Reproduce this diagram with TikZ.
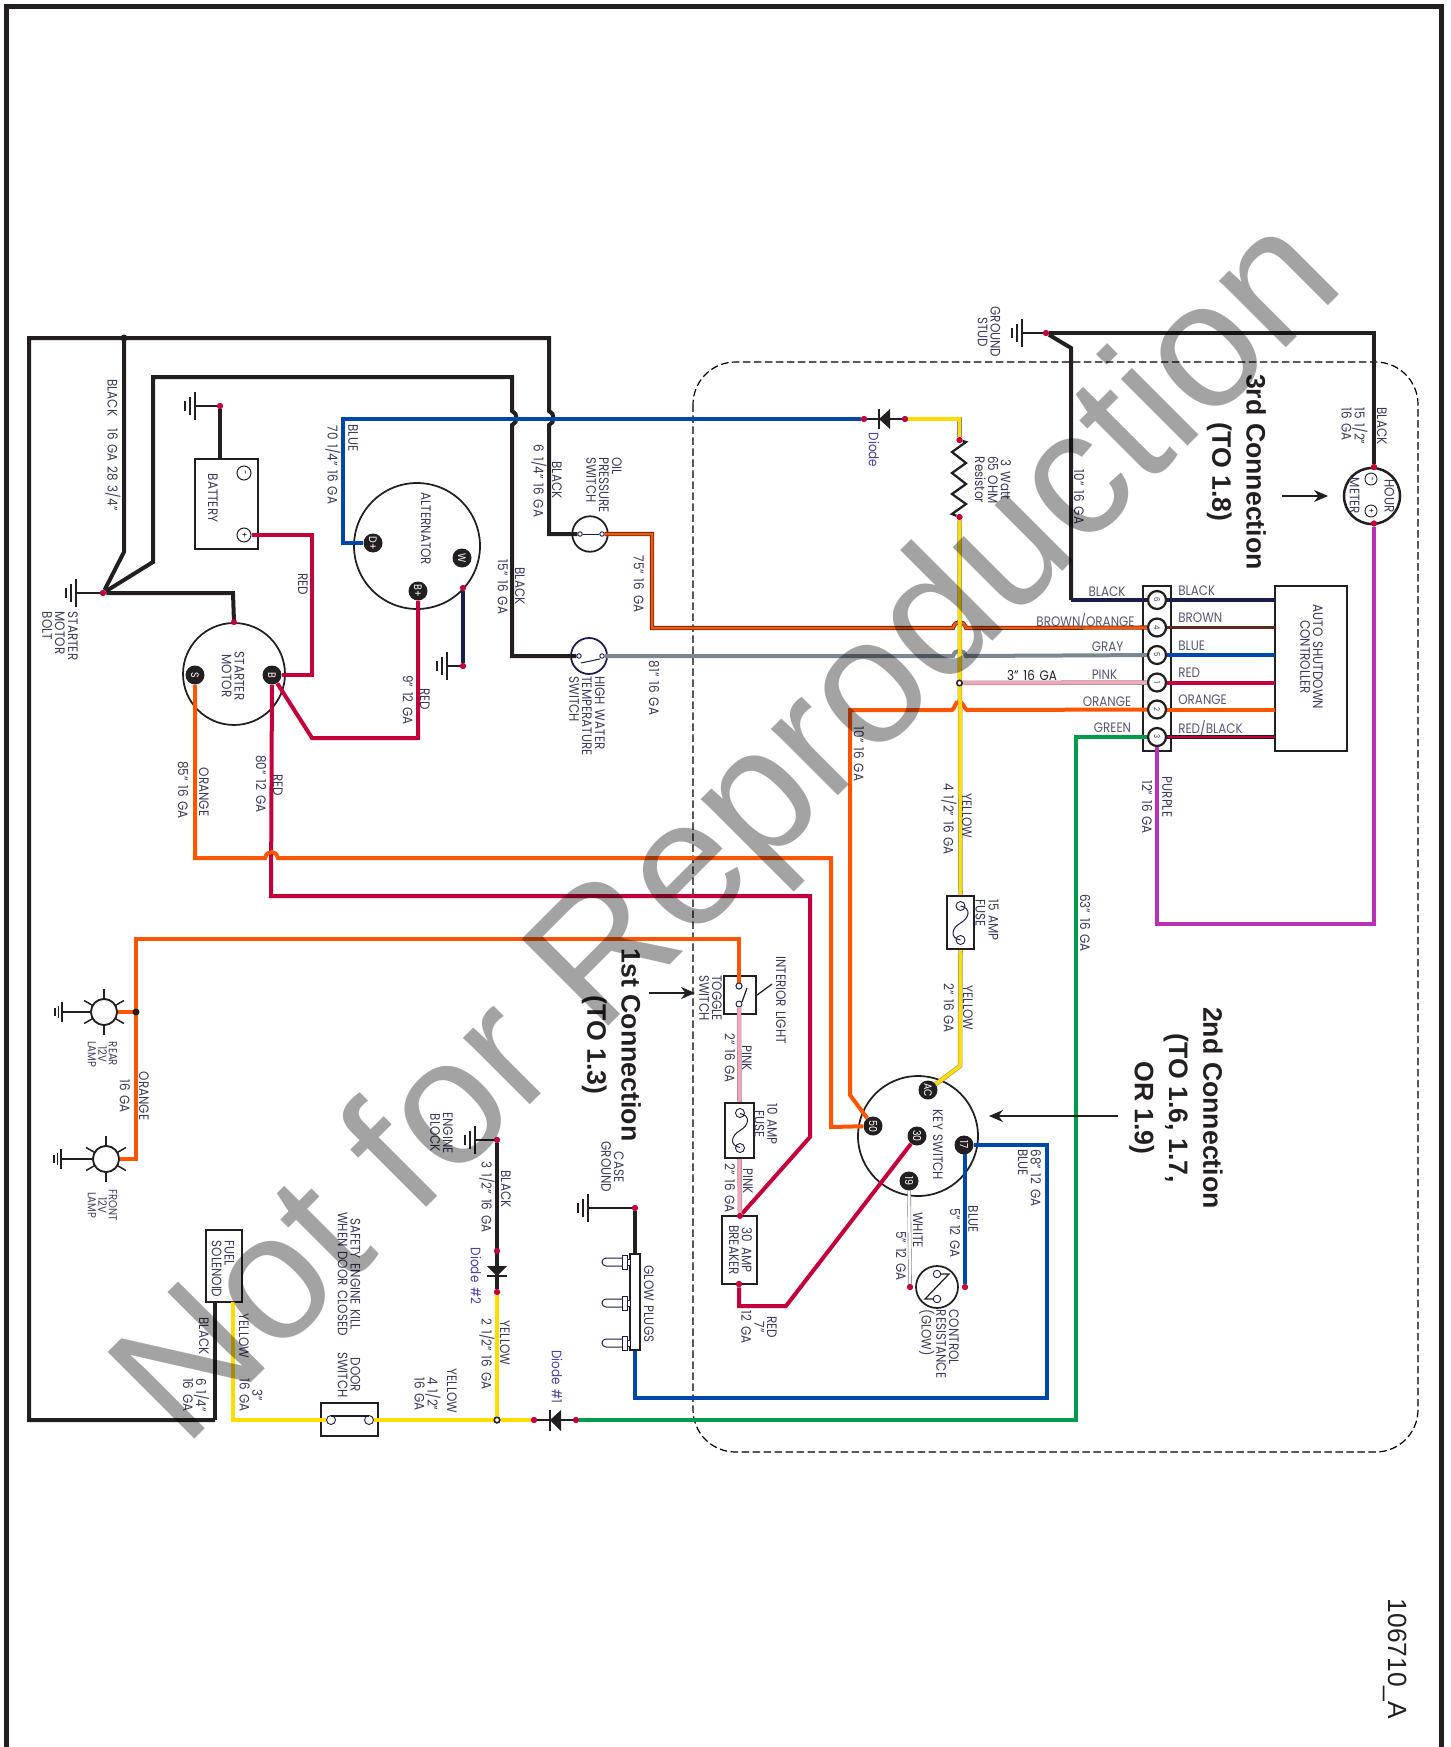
\documentclass[tikz,border=0pt]{standalone}
\usepackage{fontspec}
\setmainfont{Poppins}[FakeStretch=0.87,WordSpace=1.5]
\newfontfamily\headfont{Liberation Sans}
\usetikzlibrary{arrows.meta}
\definecolor{wblack}{HTML}{231F20}
\definecolor{wnavy}{HTML}{1C1C4C}
\definecolor{wred}{HTML}{C4003A}
\definecolor{worange}{HTML}{FF5500}
\definecolor{wblue}{HTML}{0047AB}
\definecolor{wgreen}{HTML}{009B4C}
\definecolor{wpurple}{HTML}{B832B8}
\definecolor{wyellow}{HTML}{FFDD00}
\definecolor{wgray}{HTML}{7A8891}
\definecolor{wbrown}{HTML}{5A2D1A}
\definecolor{wpink}{HTML}{F4A6B8}
\definecolor{lbltext}{HTML}{3A3A5C}
\definecolor{diodetext}{HTML}{4B3FA0}
\tikzset{
  wireblk/.style={draw=wblack,line width=0.08cm,line join=miter},
  wirenvy/.style={draw=wnavy,line width=0.07cm},
  wirered/.style={draw=wred,line width=0.08cm},
  wireorg/.style={draw=worange,line width=0.08cm},
  wireblu/.style={draw=wblue,line width=0.08cm},
  wiregrn/.style={draw=wgreen,line width=0.08cm},
  wirepur/.style={draw=wpurple,line width=0.08cm},
  wiregry/.style={draw=wgray,line width=0.08cm},
  wirebrn/.style={draw=wbrown,line width=0.07cm},
  wireyel/.style={draw=black!45,double=wyellow,line width=0.01cm,double distance=0.07cm},
  wirepnk/.style={draw=black!45,double=wpink,line width=0.01cm,double distance=0.07cm},
  wirewht/.style={draw=black!50,double=white,line width=0.012cm,double distance=0.05cm},
  wirebo/.style={draw=wbrown,double=worange,line width=0.016cm,double distance=0.05cm},
  wirerb/.style={draw=wblack,double=wred,line width=0.016cm,double distance=0.04cm},
  thin line/.style={draw=wblack,line width=0.025cm},
  navy line/.style={draw=wnavy,line width=0.02cm},
  lbl/.style={rotate=-90,text=lbltext,inner sep=0,align=center,font=\fontsize{7.8}{7.3}\selectfont},
  lblleft/.style={lbl,align=left},
  lblsmall/.style={lbl,font=\fontsize{6.6}{6}\selectfont},
  lblflat/.style={text=lbltext!85!white,inner sep=0,font=\fontsize{7.8}{8}\selectfont},
  lbldiode/.style={lbl,text=diodetext},
  headlbl/.style={rotate=-90,text=wblack,inner sep=0,align=center,font=\headfont\bfseries\fontsize{15.2}{19.5}\selectfont},
  dotred/.style={circle,fill=wred,inner sep=0,minimum size=0.12cm},
  dotblk/.style={circle,fill=wblack,inner sep=0,minimum size=0.14cm},
  dotwht/.style={circle,fill=white,draw=wblack,line width=0.03cm,inner sep=0,minimum size=0.11cm},
  smallcirc/.style={circle,fill=white,draw=wnavy,line width=0.018cm,inner sep=0,minimum size=0.18cm},
  term/.style={circle,fill=wblack,text=white,rotate=-90,inner sep=0,minimum size=0.38cm,font=\fontsize{6.2}{6}\selectfont},
  block/.style={circle,fill=white,draw=wblack,line width=0.045cm,text=lbltext,rotate=-90,inner sep=0,minimum size=0.36cm,font=\fontsize{4.5}{5}\selectfont},
  comp/.style={circle,draw=wblack,line width=0.035cm,inner sep=0},
  boxcomp/.style={rectangle,draw=wblack,line width=0.045cm,fill=white,inner sep=0},
  gndsym/.pic={
    \draw [wblack,line width=0.035cm] (0,-14) -- (0,14);
    \draw [wblack,line width=0.03cm] (-5,-9) -- (-5,9);
    \draw [wblack,line width=0.03cm] (-10,-5) -- (-10,5);
  },
  lamprays/.pic={
    \foreach \ang in {30,90,150,210,270,330} {\draw [wblack,line width=0.03cm] (\ang:13) -- (\ang:23);}
  },
  fusewave/.pic={
    \draw [wnavy,line width=0.02cm] (0,-17) .. controls (11,-15) and (9,-5) .. (0,0) .. controls (-9,5) and (-11,15) .. (0,17);
  },
  plugsym/.pic={
    \draw [wnavy,line width=0.02cm,fill=white] (0,-3) rectangle (-3,3);
    \draw [wnavy,line width=0.02cm,fill=white] (-3,-7) rectangle (-8,7);
    \draw [wnavy,line width=0.02cm] (-8,-4) -- (-24,-4) arc (270:90:4) -- (-8,4);
  }
}
\begin{document}
\begin{tikzpicture}[x=0.02cm,y=-0.02cm]
  \useasboundingbox (0,0) rectangle (1450,1747);

  % Frame
  \coordinate (framebl) at (6.5,1747);
  \coordinate (frametl) at (6.5,6.5);
  \coordinate (frametr) at (1441.5,6.5);
  \coordinate (framebr) at (1441.5,1747);
  \draw [wblack,line width=0.1cm] (framebl) -- (frametl) -- (frametr) -- (framebr);%

  % Dashed enclosure
  \draw [black,line width=0.024cm,dash pattern=on 0.15cm off 0.07cm,rounded corners=0.85cm] (693,362) rectangle (1418,1452);%

  % Grounds and junction points
  \node (gndstarter) [dotred] at (103,593) {};
  \node (gndbatt) [dotred] at (220,406) {};
  \node (gndalt) [dotred] at (463,666) {};
  \node (gndstud) [dotred] at (1046,333) {};
  \node (gndengine) [dotred] at (497,1140) {};
  \node (gndcase) [dotred] at (635,1208) {};
  \coordinate (barstarter) at (76,593);
  \coordinate (barbatt) at (195,406);
  \coordinate (baralt) at (447,666);
  \coordinate (barstud) at (1022,333);
  \coordinate (barengine) at (475,1140);
  \coordinate (barcase) at (588,1208);
  \coordinate (barrear) at (62,1012);
  \coordinate (barfront) at (61,1159);

  % Components with round bodies
  \node (starter) [comp,minimum size=2.04cm] at (234,674) {};
  \node (alternator) [comp,minimum size=2.52cm] at (417,546) {};
  \node (oilsw) [comp,minimum size=0.71cm] at (590,534) {};
  \node (watersw) [comp,draw=wnavy,minimum size=0.72cm] at (589,656) {};
  \node (keysw) [comp,minimum size=2.4cm] at (918,1136) {};
  \node (hourmeter) [comp,line width=0.05cm,minimum size=1.12cm] at (1372,496) {};
  \node (ctrlres) [comp,minimum size=0.84cm] at (937,1287) {};
  \node (rearlamp) [comp,fill=white,minimum size=0.52cm] at (104,1012) {};
  \node (frontlamp) [comp,fill=white,minimum size=0.52cm] at (106,1159) {};

  % Terminals
  \node (termS) [term] at (195,675) {S};
  \node (termB) [term] at (272,675) {B};
  \node (termD) [term] at (373,543) {D+};
  \node (termW) [term] at (462,558) {W};
  \node (termBp) [term] at (418,591) {B+};
  \node (termAC) [term] at (928,1090) {AC};
  \node (term50) [term] at (873,1126) {50};
  \node (term30) [term] at (917,1136) {30};
  \node (term17) [term] at (964,1145) {17};
  \node (term19) [term] at (909,1181) {19};

  % Wire bends
  \coordinate (blktopr) at (549,338);
  \coordinate (blktopl) at (29,338);
  \coordinate (blkbotl) at (29,1420);
  \coordinate (blkbotr) at (215,1420);
  \coordinate (blktap) at (124,338);
  \coordinate (blktapb) at (124,552);
  \coordinate (blk2l) at (153,377);
  \coordinate (blk2r) at (512,377);
  \coordinate (blk2b) at (153,562);
  \coordinate (blk2d) at (512,656);
  \coordinate (blk1d) at (549,534);
  \coordinate (hopa1) at (512,411);
  \coordinate (hopa2) at (512,425);
  \coordinate (hopb1) at (549,411);
  \coordinate (hopb2) at (549,425);
  \coordinate (strtop) at (233,593);
  \coordinate (hopbrn1) at (953,628);
  \coordinate (hopbrn2) at (966,628);
  \coordinate (hopgry1) at (953,656);
  \coordinate (hopgry2) at (966,656);
  \coordinate (hoporg1) at (952,710);
  \coordinate (hoporg2) at (967,710);
  \coordinate (hopred1) at (265,858);
  \coordinate (hopred2) at (278,858);

  % Small parts on the switches
  \node (oilc1) [smallcirc,minimum size=0.09cm] at (580,534) {};
  \node (oilc2) [smallcirc,minimum size=0.09cm] at (602,534) {};
  \node (watc1) [smallcirc,minimum size=0.09cm] at (579,656) {};
  \node (watc2) [smallcirc,minimum size=0.09cm] at (602,656) {};
  \coordinate (watarm1) at (581,663);
  \coordinate (watarm2) at (600,659);

  % Battery
  \node (battery) [boxcomp,minimum width=1.26cm,minimum height=1.8cm] at (226.5,504) {};
  \node (battminus) [circle,draw=wblack,line width=0.02cm,inner sep=0,minimum size=0.28cm,rotate=-90,font=\fontsize{5}{5}\selectfont] at (244,473) {-};
  \node (battplus) [circle,draw=wblack,line width=0.02cm,inner sep=0,minimum size=0.28cm,rotate=-90,font=\fontsize{5}{5}\selectfont] at (244,535) {+};
  \coordinate (battred1) at (312,535);
  \coordinate (battred2) at (312,675);
  \coordinate (altred1) at (312,738);
  \coordinate (altred2) at (418,738);
  \coordinate (batttop) at (220,459);

  % Drawing the long black wires
  \draw [wireblk] (blkbotr) -- (blkbotl) -- (blktopl) -- (blktopr) -- (hopb1) .. controls +(6,2) and +(6,-2) .. (hopb2) -- (blk1d) -- (oilc1);%
  \draw [wireblk] (gndstarter) -- (blktapb) -- (blktap);%
  \node (blktapdot) [dotblk] at (blktap) {};
  \draw [wireblk] (gndstarter) -- (blk2b) -- (blk2l) -- (blk2r) -- (hopa1) .. controls +(6,2) and +(6,-2) .. (hopa2) -- (blk2d) -- (watc1);%
  \draw [wireblk] (gndstarter) -- (strtop) -- (starter.north);%
  \draw [wireblk,line width=0.035cm] (gndstarter) -- (barstarter);%
  \draw [wireblk] (gndbatt) -- (batttop);%
  \draw [wireblk,line width=0.035cm] (gndbatt) -- (barbatt);%
  \pic at (barstarter) {gndsym};
  \pic at (barbatt) {gndsym};
  \node (strdot) [dotred] at (starter.north) {};
  \node (gndstarter2) [dotred] at (103,593) {};
  \node (gndbatt2) [dotred] at (220,406) {};

  % Drawing the alternator wires
  \coordinate (blu1) at (343,543);
  \coordinate (blu2) at (343,419);
  \node (dio1l) [dotred] at (864,419) {};
  \node (dio1r) [dotred] at (905,419) {};
  \draw [wireblu] (termD) -- (blu1) -- (blu2) -- (dio1l);%
  \draw [wirered] (battplus) -- (battred1) -- (battred2) -- (termB);%
  \draw [wirered] (termB) -- (altred1) -- (altred2) -- (termBp);%
  \node (altdot) [dotred] at (463,588) {};
  \draw [wirenvy] (altdot) -- (gndalt);%
  \draw [wireblk,line width=0.035cm] (gndalt) -- (baralt);%
  \pic at (baralt) {gndsym};
  \node (altdot2) [dotred] at (463,588) {};
  \node (gndalt2) [dotred] at (463,666) {};

  % Drawing the orange and red wires from the starter
  \coordinate (org1a) at (195,858);
  \coordinate (org1b) at (831,858);
  \coordinate (org1c) at (831,1127);
  \coordinate (red1a) at (271,896);
  \coordinate (red1b) at (810,896);
  \coordinate (red1c) at (810,1137);
  \node (brkdot) [dotred] at (740,1216) {};
  \draw [wirered] (termB) -- (red1a) -- (red1b) -- (red1c) -- (brkdot);%
  \draw [wireorg] (termS) -- (org1a) -- (hopred1) .. controls +(2,-8) and +(-2,-8) .. (hopred2) -- (org1b) -- (org1c) -- (term50);%

  % Terminal block and controller
  \node (tblock) [boxcomp,minimum width=0.56cm,minimum height=3.3cm] at (1157,668.5) {};
  \node (controller) [boxcomp,minimum width=1.44cm,minimum height=3.3cm] at (1311,668.5) {};
  \node (t6) [block] at (1157,600) {6};
  \node (t4) [block] at (1157,627.5) {4};
  \node (t5) [block] at (1157,655) {5};
  \node (t1) [block] at (1157,682.5) {1};
  \node (t2) [block] at (1157,709.5) {2};
  \node (t3) [block] at (1157,737) {3};
  \coordinate (c6) at (1275,600);
  \coordinate (c4) at (1275,627.5);
  \coordinate (c5) at (1275,655);
  \coordinate (c1) at (1275,682.5);
  \coordinate (c2) at (1275,709.5);
  \coordinate (c3) at (1275,737);
  \draw [wirenvy] (t6) -- (c6);%
  \draw [wirebrn] (t4) -- (c4);%
  \draw [wireblu] (t5) -- (c5);%
  \draw [wirered] (t1) -- (c1);%
  \draw [wireorg] (t2) -- (c2);%
  \draw [wirerb] (t3) -- (c3);%

  % Drawing the wires through the yellow feed
  \coordinate (brn1) at (652,534);
  \coordinate (brn2) at (652,628);
  \coordinate (brn3) at (1140,627.5);
  \coordinate (gry3) at (1140,655);
  \coordinate (org3) at (1140,709.5);
  \coordinate (org2a) at (850,710);
  \coordinate (org2b) at (850,1095);
  \draw [wirebo] (oilc2) -- (brn1) -- (brn2) -- (hopbrn1) .. controls +(2,-8) and +(-2,-8) .. (hopbrn2) -- (t4);%
  \draw [wiregry] (watc2) -- (hopgry1) .. controls +(2,-7) and +(-2,-7) .. (hopgry2) -- (t5);%
  \draw [wireorg] (term50) -- (org2b) -- (org2a) -- (hoporg1) .. controls +(3,-1) and +(-4,-1) .. +(7,-8) .. controls +(4,-1) and +(-3,-1) .. (hoporg2) -- (t2);%

  % Drawing black wire from the ground stud
  \coordinate (stud1) at (1374,333);
  \coordinate (stud2) at (1071,348);
  \coordinate (stud3) at (1071,600);
  \node (metertop) [dotred] at (1374,467) {};
  \node (meterbot) [dotred] at (1374,523.5) {};
  \draw [wireblk] (gndstud) -- (stud1) -- (metertop);%
  \draw [wireblk] (gndstud) -- (stud2) -- (stud3);%
  \draw [wirenvy] (stud3) -- (t6);%
  \draw [wireblk,line width=0.035cm] (gndstud) -- (barstud);%
  \pic at (barstud) {gndsym};
  \node (gndstud2) [dotred] at (1046,333) {};

  % Hour meter
  \node (meterminus) [circle,draw=wblack,line width=0.018cm,inner sep=0,minimum size=0.24cm,rotate=-90,font=\fontsize{4.5}{5}\selectfont] at (1371,479) {-};
  \node (meterplus) [circle,draw=wblack,line width=0.018cm,inner sep=0,minimum size=0.24cm,rotate=-90,font=\fontsize{4.5}{5}\selectfont] at (1371,511) {+};

  % Drawing purple wire
  \coordinate (pur1) at (1157,924);
  \coordinate (pur2) at (1374,924);
  \draw [wirepur] (t3) -- (pur1) -- (pur2) -- (meterbot);%
  \node (metertop2) [dotred] at (1374,467) {};
  \node (meterbot2) [dotred] at (1374,523.5) {};

  % Drawing the fuse and resistor feed
  \coordinate (yel1) at (959.5,419);
  \node (resdot1) [dotred] at (959.5,440) {};
  \node (resdot2) [dotred] at (959.5,517) {};
  \node (fuse15) [boxcomp,minimum width=0.54cm,minimum height=1.06cm] at (960.5,922.5) {};
  \coordinate (yel2) at (960,1066);
  \draw [wblack,line width=0.045cm] (dio1l) -- (dio1r);%
  \draw [wireyel] (dio1r) -- (yel1) -- (resdot1);%
  \draw [wireyel] (resdot2) -- (fuse15.north);%
  \draw [wireyel] (fuse15.south) -- (yel2) -- (termAC);%
  \draw [wblack,line width=0.045cm] (resdot1) -- (966,442) -- (952,452) -- (966,463) -- (952,473) -- (966,484) -- (952,494) -- (966,504) -- (952,514) -- (resdot2);%
  \node (resdot3) [dotred] at (959.5,440) {};
  \node (resdot4) [dotred] at (959.5,517) {};
  \node (dio1l2) [dotred] at (864,419) {};
  \node (dio1r2) [dotred] at (905,419) {};
  \node (pinkdot) [dotwht] at (959.5,683) {};
  \draw [wirepnk] (pinkdot) -- (t1);%
  \node (f15a) [smallcirc] at (960.5,906) {};
  \node (f15b) [smallcirc] at (960.5,940) {};
  \pic at (960.5,923) {fusewave};

  % Diode at the top
  \fill [wblack] (879,419) -- (890,409) -- (890,429) -- cycle;
  \draw [wblack,line width=0.035cm] (879,409) -- (879,429);%

  % Drawing green wire and diode 1
  \coordinate (grn1) at (1076,737);
  \coordinate (grn2) at (1076,1420);
  \node (dio3r) [dotred] at (576,1420) {};
  \node (dio3l) [dotred] at (534,1420) {};
  \draw [wiregrn] (t3) -- (grn1) -- (grn2) -- (dio3r);%
  \draw [wblack,line width=0.045cm] (dio3l) -- (dio3r);%
  \fill [wblack] (550,1420) -- (561,1410) -- (561,1431) -- cycle;
  \draw [wblack,line width=0.035cm] (550,1410) -- (550,1431);%

  % Drawing blue wires from the key switch
  \node (glowplugs) [boxcomp,draw=wblack,line width=0.035cm,minimum width=0.2cm,minimum height=1.92cm] at (635,1302) {};
  \coordinate (blu3) at (1047,1145);
  \coordinate (blu4) at (1047,1398);
  \coordinate (blu5) at (635,1398);
  \coordinate (blu6) at (965,1154);
  \node (resblu) [dotred] at (965,1287) {};
  \node (reswht) [dotred] at (910,1287) {};
  \draw [wireblu] (term17) -- (blu3) -- (blu4) -- (blu5) -- (glowplugs.south);%
  \draw [wireblu] (blu6) -- (resblu);%
  \draw [wirewht] (term19) -- (reswht);%
  \node (resblu2) [dotred] at (965,1287) {};
  \node (reswht2) [dotred] at (910,1287) {};
  \draw [wireblk] (gndcase) -- (glowplugs.north);%
  \draw [wireblk,line width=0.035cm] (gndcase) -- (barcase);%
  \pic at (barcase) {gndsym};
  \node (gndcase2) [dotred] at (635,1208) {};
  \pic at (630,1262) {plugsym};
  \pic at (630,1303) {plugsym};
  \pic at (630,1343) {plugsym};

  % Control resistance parts
  \node (resc1) [smallcirc,minimum size=0.15cm] at (937,1274) {};
  \node (resc2) [smallcirc,minimum size=0.15cm] at (937,1299) {};
  \coordinate (resarm1) at (949,1274);
  \coordinate (resarm2) at (925,1299);
  \draw [thin line] (resc1) -- (resarm1) -- (resarm2) -- (resc2);%

  % Toggle, fuse and breaker
  \coordinate (orgt1) at (136,939);
  \coordinate (orgt2) at (739,939);
  \coordinate (orgt3) at (136,1159);
  \node (toggle) [boxcomp,minimum width=0.64cm,minimum height=0.76cm] at (740,995) {};
  \node (togc1) [smallcirc,minimum size=0.12cm] at (739,986) {};
  \node (togc2) [smallcirc,minimum size=0.12cm] at (739,1004) {};
  \coordinate (togarm1) at (742,1002);
  \coordinate (togarm2) at (747,988);
  \coordinate (leadend) at (772,984);
  \node (fuse10) [boxcomp,minimum width=0.58cm,minimum height=1.1cm] at (739.5,1130.5) {};
  \node (breaker) [boxcomp,minimum width=0.7cm,minimum height=1.36cm] at (739.5,1250) {};
  \node (brkbot) [dotred] at (739,1284) {};
  \coordinate (red2a) at (739,1306);
  \coordinate (red2b) at (786,1306);
  \draw [wirepnk] (togc2) -- (fuse10.north);%
  \draw [wirepnk] (fuse10.south) -- (brkdot);%
  \node (f10a) [smallcirc] at (740,1113) {};
  \node (f10b) [smallcirc] at (740,1148) {};
  \pic at (740,1130.5) {fusewave};
  \draw [wireorg] (rearlamp) -- (orgt1 |- rearlamp);%
  \draw [wireorg] (frontlamp) -- (orgt3) -- (orgt1) -- (orgt2) -- (togc1);%
  \node (togc1b) [smallcirc,minimum size=0.12cm] at (739,986) {};
  \draw [thin line] (togarm1) -- (togarm2);%
  \draw [thin line] (toggle.east) -- (leadend);%
  \draw [wirered] (brkbot) -- (red2a) -- (red2b) -- (term30);%
  \node (brkdot2) [dotred] at (740,1216) {};
  \node (brkbot2) [dotred] at (739,1284) {};

  % Lamps
  \pic at (rearlamp) {lamprays};
  \pic at (frontlamp) {lamprays};
  \node (lampdot) [dotblk] at (136,1012) {};
  \draw [wireblk,line width=0.035cm] (rearlamp) -- (barrear);%
  \draw [wireblk,line width=0.035cm] (frontlamp) -- (barfront);%
  \node (rearlamp2) [comp,fill=white,minimum size=0.52cm] at (104,1012) {};
  \node (frontlamp2) [comp,fill=white,minimum size=0.52cm] at (106,1159) {};
  \pic [scale=0.72] at (barrear) {gndsym};
  \pic [scale=0.72] at (barfront) {gndsym};

  % Fuel solenoid, door switch and engine block
  \node (solenoid) [boxcomp,minimum width=0.72cm,minimum height=1.44cm] at (224,1266) {};
  \node (doorsw) [boxcomp,minimum width=1.14cm,minimum height=0.66cm] at (349.5,1419.5) {};
  \coordinate (solyel) at (233,1302);
  \coordinate (solblk) at (215,1302);
  \coordinate (yel3) at (233,1420);
  \node (dooryel) [dotwht] at (497,1420) {};
  \node (doorc1) [smallcirc] at (331,1420) {};
  \node (doorc2) [smallcirc] at (369,1420) {};
  \node (dio2t) [dotred] at (497,1251) {};
  \node (dio2b) [dotred] at (497,1292) {};
  \draw [wireblk] (solblk) -- (blkbotr);%
  \draw [wireyel] (solyel) -- (yel3) -- (doorc1);%
  \draw [wireyel] (doorc2) -- (dooryel) -- (dio3l);%
  \draw [wireyel] (dooryel) -- (dio2b);%
  \node (dooryel2) [dotwht] at (497,1420) {};
  \node (dio3l2) [dotred] at (534,1420) {};
  \node (dio3r2) [dotred] at (576,1420) {};
  \draw [thin line] (doorc1) ++(0,-4) -- ++(38,0);%
  \draw [wireblk] (gndengine) -- (dio2b);%
  \draw [wireblk,line width=0.035cm] (gndengine) -- (barengine);%
  \pic at (barengine) {gndsym};
  \fill [wblack] (497,1276) -- (487,1266) -- (507,1266) -- cycle;
  \draw [wblack,line width=0.035cm] (487,1276) -- (507,1276);%
  \node (gndengine2) [dotred] at (497,1140) {};
  \node (dio2t2) [dotred] at (497,1251) {};
  \node (dio2b2) [dotred] at (497,1292) {};
  \draw [navy line] (oilc1) -- (oilc2);%
  \draw [navy line] (watarm1) -- (watarm2);%

  % Labels on the left half
  \node (lbl01) [lbl] at (113,445) {BLACK\hspace{0.9em}16 GA 28 3/4"};
  \node (lbl02) [lblleft] at (60,636) {STARTER\\MOTOR\\BOLT};
  \node (lbl03) [lbl] at (213,498) {BATTERY};
  \node (lbl04) [lbl] at (303,584) {RED};
  \node (lbl05) [lbl] at (353,438) {BLUE};
  \node (lbl06) [lbl] at (333,465) {70 1/4" 16 GA};
  \node (lbl07) [lbl] at (426,529) {ALTERNATOR};
  \node (lbl08) [lbl] at (408,700) {9" 12 GA};
  \node (lbl09) [lbl] at (425,699) {RED};
  \node (lbl10) [lbl] at (233,676) {STARTER\\MOTOR};
  \node (lbl11) [lbl] at (183,790) {85" 16 GA};
  \node (lbl12) [lbl] at (204,792) {ORANGE};
  \node (lbl13) [lbl] at (261,784) {80" 12 GA};
  \node (lbl14) [lbl] at (278,785) {RED};
  \node (lbl15) [lblleft] at (604,485) {OIL\\PRESSURE\\SWITCH};
  \node (lbl16) [lbl] at (557,480) {BLACK};
  \node (lbl17) [lbl] at (539,481) {6 1/4" 16 GA};
  \node (lbl18) [lbl] at (520,586) {BLACK};
  \node (lbl19) [lbl] at (503,587) {15" 16 GA};
  \node (lbl20) [lbl] at (639,584) {75" 16 GA};
  \node (lbl21) [lbl] at (654,688) {81" 16 GA};
  \node (lbl22) [lblleft] at (587,716) {HIGH WATER\\TEMPERATURE\\SWITCH};
  \node (lbl23) [lbl] at (859,754) {10" 16 GA};
  \node (lbl24) [lbldiode] at (874,450) {Diode};

  % Labels on the right half
  \node (lbl25) [lbl] at (989,332) {GROUND\\STUD};
  \node (lbl26) [lbl] at (1079,497) {10" 16 GA};
  \node (lbl27) [lbl] at (993,480) {3 Watt\\65 OHM\\Resistor};
  \node (lbl28) [lbl] at (967,816) {YELLOW};
  \node (lbl29) [lbl] at (949,819) {4 1/2" 16 GA};
  \node (lbl30) [lbl] at (1372,496) {HOUR\\[1.6em]METER};
  \node (lbl31) [lbl] at (1382,426) {BLACK};
  \node (lbl32) [lblleft] at (1354.5,426) {15 1/2"\\16 GA};
  \node (lbl33) [lblflat] at (1107,592) {BLACK};
  \node (lbl34) [lblflat] at (1085.5,621) {BROWN/ORANGE};
  \node (lbl35) [lblflat] at (1107.5,647) {GRAY};
  \node (lbl36) [lblflat] at (1104.5,675) {PINK};
  \node (lbl37) [lblflat,text=wblack] at (1032,675) {3" 16 GA};
  \node (lbl38) [lblflat] at (1107,702) {ORANGE};
  \node (lbl39) [lblflat] at (1112.5,728) {GREEN};
  \node (lbl40) [lblflat,anchor=west] at (1178,590.5) {BLACK};
  \node (lbl41) [lblflat,anchor=west] at (1178,618) {BROWN};
  \node (lbl42) [lblflat,anchor=west] at (1178,646) {BLUE};
  \node (lbl43) [lblflat,anchor=west] at (1178,673) {RED};
  \node (lbl44) [lblflat,anchor=west] at (1178,700) {ORANGE};
  \node (lbl45) [lblflat,anchor=west] at (1178,728) {RED/BLACK};
  \node (lbl46) [lbl] at (1311.5,657) {AUTO SHUTDOWN\\CONTROLLER};
  \node (lbl47) [lbl] at (1167,797) {PURPLE};
  \node (lbl48) [lbl] at (1147,807) {12" 16 GA};
  \node (lbl49) [lbl] at (1085,923) {63" 16 GA};

  % Labels round the key switch
  \node (lbl50) [lblleft] at (987,920) {15 AMP\\FUSE};
  \node (lbl51) [lbl] at (968,1008) {YELLOW};
  \node (lbl52) [lbl] at (949,1008) {2" 16 GA};
  \node (lbl53) [lbl] at (938,1145) {KEY SWITCH};
  \node (lbl54) [lblleft] at (1029.5,1178) {68" 12 GA\\BLUE};
  \node (lbl55) [lbl] at (973,1219) {BLUE};
  \node (lbl56) [lbl] at (955,1233) {5" 12 GA};
  \node (lbl57) [lbl] at (918,1230) {WHITE};
  \node (lbl58) [lbl] at (901,1256) {5" 12 GA};
  \node (lbl59) [lblleft] at (939,1344) {CONTROL\\RESISTANCE\\(GLOW)};
  \node (lbl60) [lbl] at (781,1000) {INTERIOR LIGHT};
  \node (lbl61) [lbl] at (710.5,998) {TOGGLE\\SWITCH};
  \node (lbl62) [lbl] at (747,1058) {PINK};
  \node (lbl63) [lbl] at (730,1058) {2" 16 GA};
  \node (lbl64) [lbl] at (766,1124) {10 AMP\\FUSE};
  \node (lbl65) [lbl] at (748,1181) {PINK};
  \node (lbl66) [lbl] at (730,1188) {2" 16 GA};
  \node (lbl67) [lbl] at (740.5,1250) {30 AMP\\BREAKER};
  \node (lbl68) [lbl] at (759,1327) {RED\\[0pt]7"\\12 GA};

  % Labels in the lower part
  \node (lbl69) [lblsmall] at (102.5,1054) {REAR\\12V\\LAMP};
  \node (lbl70) [lblsmall] at (102.5,1205) {FRONT\\12V\\LAMP};
  \node (lbl71) [lbl] at (144,1096) {ORANGE};
  \node (lbl72) [lbl] at (125,1096) {16 GA};
  \node (lbl73) [lblleft] at (223,1269) {FUEL\\SOLENOID};
  \node (lbl74) [lbl] at (204,1336) {BLACK};
  \node (lbl75) [lblleft] at (196,1395) {6 1/4"\\16 GA};
  \node (lbl76) [lbl] at (244,1336) {YELLOW};
  \node (lbl77) [lbl] at (251,1395) {3"\\16 GA};
  \node (lbl78) [lbl] at (349,1274) {SAFETY ENGINE KILL\\WHEN DOOR CLOSED};
  \node (lbl79) [lbl] at (349,1375) {DOOR\\SWITCH};
  \node (lbl80) [lbl] at (441.5,1133) {ENGINE\\BLOCK};
  \node (lbl81) [lbl] at (506,1189) {BLACK};
  \node (lbl82) [lbl] at (487,1197) {3 1/2" 16 GA};
  \node (lbl83) [lbldiode] at (476,1276) {Diode \#2};
  \node (lbl84) [lbl] at (505,1343) {YELLOW};
  \node (lbl85) [lbl] at (487,1354) {2 1/2" 16 GA};
  \node (lbl86) [lbldiode] at (557,1377) {Diode \#1};
  \node (lbl87) [lbl] at (452,1391) {YELLOW};
  \node (lbl88) [lblleft] at (427.5,1394) {4 1/2"\\16 GA};
  \node (lbl89) [lbl] at (612.5,1167) {CASE\\GROUND};
  \node (lbl90) [lbl] at (649,1304) {GLOW PLUGS};

  % Connection notes and arrows
  \node (note3rd) [headlbl] at (1236.5,472) {3rd Connection\\(TO 1.8)};
  \node (note2nd) [headlbl] at (1176,1108) {2nd Connection\\(TO 1.6, 1.7,\\OR 1.9)};
  \node (note1st) [headlbl] at (611.5,1045) {1st Connection\\(TO 1.3)};
  \coordinate (arr3a) at (1282,496);
  \coordinate (arr3b) at (1328,496);
  \coordinate (arr2a) at (1118,1116);
  \coordinate (arr2b) at (989,1116);
  \coordinate (arr1a) at (649,993);
  \coordinate (arr1b) at (695,993);
  \draw [-{Stealth[length=0.28cm,width=0.24cm]},wblack,line width=0.035cm] (arr3a) -- (arr3b);%
  \draw [-{Stealth[length=0.28cm,width=0.24cm]},wblack,line width=0.035cm] (arr2a) -- (arr2b);%
  \draw [-{Stealth[length=0.28cm,width=0.24cm]},wblack,line width=0.035cm] (arr1a) -- (arr1b);%
  \node (docnumber) [rotate=-90,text=wblack,inner sep=0,font=\headfont\fontsize{15}{15}\selectfont] at (1395,1659) {106710\_A};

  % Watermark
  \node (watermark) [rotate=45,text=black,text opacity=0.36,inner sep=0,font=\headfont\fontsize{101.5}{106}\selectfont] at (734,835) {Not for Reproduction};
\end{tikzpicture}
\end{document}
